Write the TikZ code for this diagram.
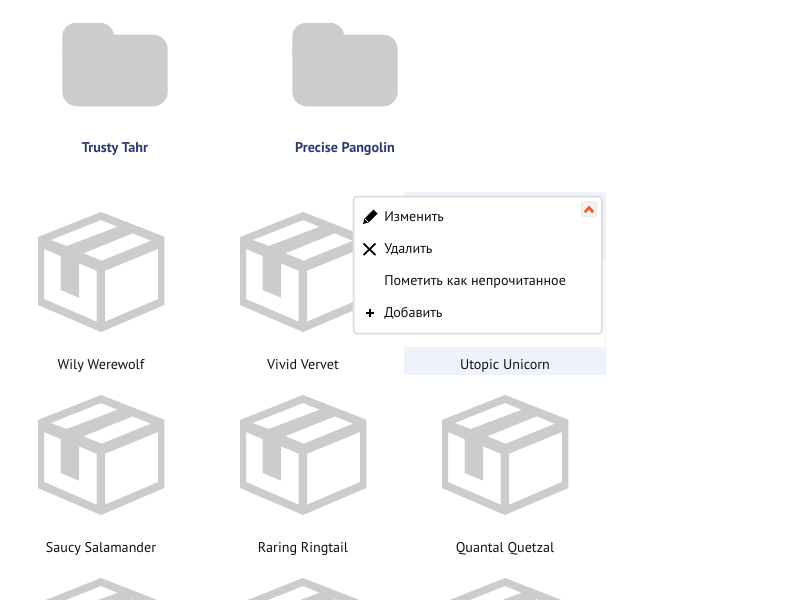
\documentclass[tikz,border=0pt]{standalone}
\usepackage{fontspec}
\setmainfont{PT Sans}
\definecolor{icongray}{HTML}{CCCCCC}
\definecolor{navy}{HTML}{2C3A70}
\definecolor{hilite}{HTML}{EEF3FB}
\definecolor{hilitegray}{HTML}{F2F2F6}
\definecolor{popborder}{HTML}{E0E0E0}
\definecolor{chev}{HTML}{F4592B}
\definecolor{textink}{HTML}{111111}
\tikzset{
  boxicon/.pic={
    \fill[icongray,even odd rule]
      (0,0)--(63.3,24.7)--(63.3,93)--(0,120)--(-63,93)--(-63,25)--cycle
      (0,8)--(16.7,14.7)--(-34.3,34)--(-50.3,28)--cycle
      (31.7,21.3)--(50,28.7)--(0.7,48.7)--(-17.7,41.3)--cycle
      (-57,37)--(-40.3,44)--(-40.3,78)--(-22,85.7)--(-22,51.3)--(-4.3,58.7)--(-4.3,109.7)--(-57,87)--cycle
      (4,58.7)--(57,37)--(57,87)--(4,109.7)--cycle;
  },
  foldericon/.pic={
    \fill[icongray,rounded corners=10pt] (-52.7,-1) rectangle (-1,40);
    \fill[icongray,rounded corners=11pt] (-52.7,10.7) rectangle (52.7,82.3);
  },
  boxlabel/.style={font=\fontsize{10.6pt}{12pt}\selectfont,text=textink,inner sep=0pt,anchor=base},
  folderlabel/.style={font=\fontsize{10.6pt}{12pt}\selectfont\bfseries,text=navy,inner sep=0pt,anchor=base},
  menuitem/.style={font=\fontsize{10.6pt}{12pt}\selectfont,text=textink,inner sep=0pt,anchor=base west},
}
\begin{document}
\begin{tikzpicture}[x=0.75pt,y=-0.75pt]
\useasboundingbox (0,0) rectangle (800,600);
\clip (0,0) rectangle (800,600);
\fill[white] (0,0) rectangle (800,600);
% folders
\pic at (115,24) {foldericon};
\pic at (345,24) {foldericon};
\node[folderlabel] (f1) at (115,152.5) {Trusty Tahr};
\node[folderlabel] (f2) at (345,152.5) {Precise Pangolin};
% highlighted cell
\fill[hilite] (404,192) rectangle (606,375);
\fill[hilitegray] (404,197) rectangle (606,261);
\fill[white] (404,261) rectangle (605,347);
% boxes
\foreach \px/\py in {101/212,303/212,505/212,101/395,303/395,505/395,101/578,303/578,505/578}{
  \pic at (\px,\py) {boxicon};
}
\node[boxlabel] (b1) at (101,369.5) {Wily Werewolf};
\node[boxlabel] (b2) at (303,369.5) {Vivid Vervet};
\node[boxlabel] (b3) at (505,369.5) {Utopic Unicorn};
\node[boxlabel] (b4) at (101,552.5) {Saucy Salamander};
\node[boxlabel] (b5) at (303,552.5) {Raring Ringtail};
\node[boxlabel] (b6) at (505,552.5) {Quantal Quetzal};
% popup
\draw[popborder,line width=1.5pt,fill=white,rounded corners=2.5pt] (353.5,196.5) rectangle (602,333.5);
\draw[line width=0.75pt,draw=black!8,fill=black!5,rounded corners=1.5pt] (581.5,201.5) rectangle (596.5,216.5);
\draw[chev,line width=2pt] (584.8,212.2)--(589,207.6)--(593.2,212.2);
% pencil
\fill[black] (363,224)--(364.5,218.5)--(373.5,209.7)--(377.5,213.5)--(368.5,222.5)--cycle;
\draw[white,line width=0.5pt] (365,218.8)--(368.3,222.2);
% cross
\draw[black,line width=1.3pt] (363.5,243.5)--(375.5,255);
\draw[black,line width=1.3pt] (375.5,243.5)--(363.5,255);
% plus
\draw[black,line width=1.5pt] (366,313)--(374,313);
\draw[black,line width=1.5pt] (370,309)--(370,317);
% menu text
\node[menuitem] (m1) at (384,221.5) {Изменить};
\node[menuitem] (m2) at (384,253.5) {Удалить};
\node[menuitem] (m3) at (384,285.5) {Пометить как непрочитанное};
\node[menuitem] (m4) at (384,317.5) {Добавить};
\end{tikzpicture}
\end{document}
